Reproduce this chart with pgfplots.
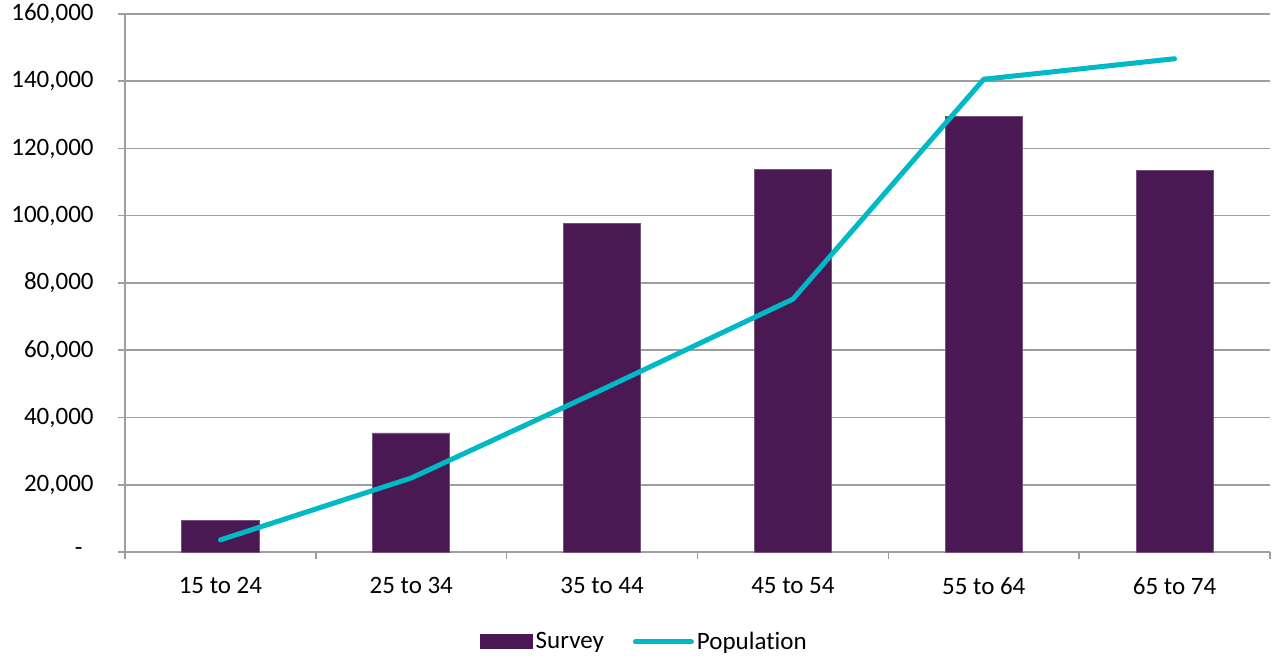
\documentclass[border=0pt]{standalone}
\usepackage{fontspec}
\setmainfont{Carlito}[Ligatures=NoCommon]
\usepackage{pgfplots}
\pgfplotsset{compat=1.18}
\definecolor{surveyc}{HTML}{4A1852}
\definecolor{popc}{HTML}{00B9C7}
\definecolor{gridc}{HTML}{9E9E9E}
\begin{document}
\begin{tikzpicture}
\useasboundingbox (-62.5pt,-53pt) rectangle (573.5pt,276pt);
\begin{axis}[
 at={(0,0)}, anchor=south west,
 scale only axis, width=572.5pt, height=269pt,
 xmin=-0.5, xmax=5.5, ymin=0, ymax=160000,
 axis x line*=bottom, axis y line*=left,
 axis line style={gridc, line width=0.75pt},
 xtick={0,1,2,3,4,5},
 xticklabels={15 to 24,25 to 34,35 to 44,45 to 54,55 to 64,65 to 74},
 minor xtick={-0.5,0.5,1.5,2.5,3.5,4.5,5.5},
 major x tick style={draw=none},
 minor x tick style={gridc, line width=0.75pt},
 ytick={0,20000,40000,60000,80000,100000,120000,140000,160000},
 yticklabels={{-\kern5.5pt\null},{20,000},{40,000},{60,000},{80,000},{100,000},{120,000},{140,000},{160,000}},
 ytick style={gridc, line width=0.75pt},
 major tick length=3.5pt, minor tick length=3.5pt, tick align=outside,
 ymajorgrids, grid style={gridc, line width=0.75pt},
 tick label style={font=\fontsize{12.5}{15}\selectfont, black},
 yticklabel style={anchor=east, inner sep=0pt, xshift=-12pt},
 xticklabel style={anchor=north, inner sep=0pt, yshift=-9pt},
 legend columns=2,
 legend style={at={(0.454,-0.167)}, anchor=center, draw=none, fill=none,
   font=\fontsize{12.5}{15}\selectfont,
   /tikz/every even column/.append style={column sep=13pt},
   nodes={inner sep=1.5pt}},
 clip=false,
]
\addplot[ybar, bar width=0.404, fill=surveyc, draw=surveyc!75!white, line width=0.4pt,
  legend image code/.code={\fill[surveyc] (0pt,-3.5pt) rectangle (26pt,3.5pt);}]
 coordinates {(0,9300) (1,35400) (2,97800) (3,113900) (4,129400) (5,113600)};
\addlegendentry{Survey}
\addplot[popc, line width=2.5pt, line cap=round, line join=round, mark=none,
  legend image code/.code={\draw[popc, line width=2.5pt, line cap=round] (0pt,0pt) -- (28pt,0pt);}]
 coordinates {(0,3600) (1,22000) (2,48300) (3,75200) (4,140600) (5,146700)};
\addlegendentry{Population}
\end{axis}
\end{tikzpicture}
\end{document}
